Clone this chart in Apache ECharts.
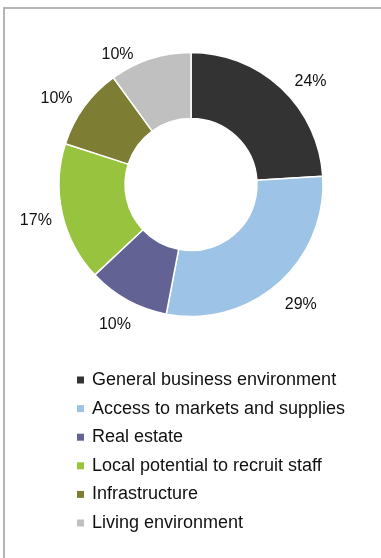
<!DOCTYPE html>
<html>
<head>
<meta charset="utf-8">
<script src="https://cdn.jsdelivr.net/npm/echarts@6/dist/echarts.min.js"></script>
<style>
  html, body { margin: 0; padding: 0; background: #fff; }
  #chart { width: 381px; height: 558px; }
</style>
</head>
<body>
<div id="chart"></div>
<script>
// Location factors, share of responses (%)
const categories = [
  'General business environment',
  'Access to markets and supplies',
  'Real estate',
  'Local potential to recruit staff',
  'Infrastructure',
  'Living environment'
];
const shares = [24, 29, 10, 17, 10, 10];
const colors = ['#333333', '#9dc3e6', '#626294', '#98c33e', '#7e7d34', '#c0c0c0'];

// small hand nudges so the percentage labels sit clear of the ring
const labelNudge = [[10, 14], [4, 0], [1, 0], [1, 1], [-5, 8], [-24, 22]];

const FONT = "'Liberation Sans', Arial, sans-serif";
const center = [191, 184.5];

const pieData = categories.map((name, i) => ({
  name: name,
  value: shares[i],
  itemStyle: { color: colors[i] }
}));

const chart = echarts.init(document.getElementById('chart'), null, { renderer: 'canvas' });

chart.setOption({
  animation: false,
  backgroundColor: '#ffffff',
  graphic: [{
    type: 'rect',
    shape: { x: 4, y: 8, width: 500, height: 700 },
    style: { fill: 'none', stroke: '#b4b4b4', lineWidth: 2 },
    silent: true,
    z: 0
  }],
  legend: {
    orient: 'vertical',
    left: 77,
    top: 370,
    padding: 0,
    data: categories,
    icon: 'rect',
    itemWidth: 7,
    itemHeight: 7,
    itemGap: 8.6,
    itemStyle: { borderWidth: 0 },
    selectedMode: false,
    textStyle: {
      fontFamily: FONT,
      fontSize: 18,
      color: '#111',
      lineHeight: 20,
      padding: [0, 0, 0, 3]
    }
  },
  series: [
    {
      name: 'shares',
      type: 'pie',
      center: center,
      radius: [66, 132],
      startAngle: 90,
      clockwise: true,
      avoidLabelOverlap: false,
      silent: true,
      label: { show: false },
      labelLine: { show: false },
      itemStyle: { borderColor: '#ffffff', borderWidth: 1.5 },
      data: pieData
    },
    {
      // invisible ring that carries the percentage labels
      name: 'labels',
      type: 'pie',
      center: center,
      radius: [140, 174],
      startAngle: 90,
      clockwise: true,
      silent: true,
      avoidLabelOverlap: false,
      itemStyle: { color: 'rgba(0,0,0,0)', borderWidth: 0 },
      label: {
        show: true,
        position: 'inside',
        formatter: p => p.value + '%',
        fontFamily: FONT,
        fontSize: 16,
        color: '#111'
      },
      labelLine: { show: false },
      labelLayout: p => ({ dx: labelNudge[p.dataIndex][0], dy: labelNudge[p.dataIndex][1] }),
      data: categories.map((name, i) => ({ name: name, value: shares[i] }))
    }
  ]
});
</script>
</body>
</html>
